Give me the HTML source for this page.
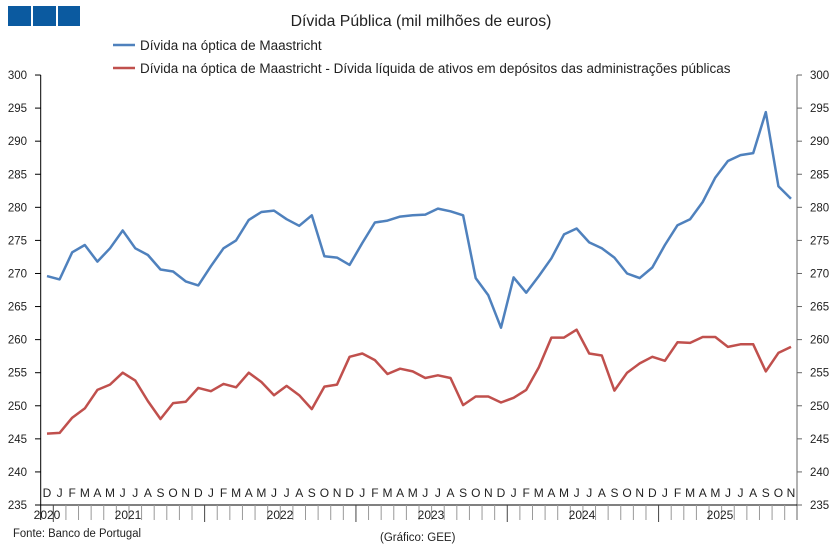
<!DOCTYPE html><html><head><meta charset="utf-8"><style>body{margin:0;background:#fff}svg{display:block;font-family:"Liberation Sans",sans-serif}</style></head><body>
<svg id="s" width="839" height="551" xmlns="http://www.w3.org/2000/svg">
<rect x="8" y="6" width="23" height="20" fill="#0b5aa0"/><rect x="33" y="6" width="23" height="20" fill="#0b5aa0"/><rect x="58" y="6" width="22" height="20" fill="#0b5aa0"/>
<text x="421" y="26" font-size="15.8" text-anchor="middle" fill="#222">Dívida Pública (mil milhões de euros)</text>
<line x1="113" y1="45" x2="135" y2="45" stroke="#4f81bd" stroke-width="2.5"/>
<text x="140" y="50" font-size="13.5" fill="#222">Dívida na óptica de Maastricht</text>
<line x1="113" y1="68" x2="135" y2="68" stroke="#c0504d" stroke-width="2.5"/>
<text x="140" y="73" font-size="13.5" fill="#222">Dívida na óptica de Maastricht - Dívida líquida de ativos em depósitos das administrações públicas</text>
<text x="13" y="537" font-size="11.5" fill="#222" textLength="128" lengthAdjust="spacingAndGlyphs">Fonte: Banco de Portugal</text>
<text x="380" y="541" font-size="11.5" fill="#222">(Gráfico: GEE)</text>
<g id="g"></g>
</svg>
<script>
var g=document.getElementById('g'),h='';
var L=40.7,R=797,dx=12.61;function X(i){return 47+dx*i}function Y(v){return 505-(v-235)*6.615}
h+='<line x1="'+L+'" y1="75" x2="'+L+'" y2="520" stroke="#000"/><line x1="'+R+'" y1="75" x2="'+R+'" y2="520" stroke="#666"/><line x1="'+L+'" y1="505" x2="'+R+'" y2="505" stroke="#000"/>';
for(var v=235;v<=300;v+=5){var y=Y(v);h+='<line x1="35" y1="'+y+'" x2="'+L+'" y2="'+y+'" stroke="#000"/><line x1="'+R+'" y1="'+y+'" x2="802" y2="'+y+'" stroke="#666"/>';
h+='<text x="27" y="'+(y+4)+'" font-size="11.5" text-anchor="end" fill="#222">'+v+'</text><text x="810" y="'+(y+4)+'" font-size="11.5" fill="#222">'+v+'</text>';}
var ms="DJFMAMJJASON";
for(var i=0;i<60;i++){h+='<text x="'+X(i)+'" y="497" font-size="12" text-anchor="middle" fill="#222">'+ms[i%12]+'</text>';
var b=X(i+0.5);if(i<59){var yr=(i%12==0);h+='<line x1="'+b+'" y1="505" x2="'+b+'" y2="'+(yr?522:520)+'" stroke="'+(yr?'#444':'#999')+'"/>';}}
[[47,'2020'],[128,'2021'],[280,'2022'],[431,'2023'],[582,'2024'],[720,'2025']].forEach(function(a){h+='<text x="'+a[0]+'" y="519" font-size="12" text-anchor="middle" fill="#222">'+a[1]+'</text>'});
var B=[269.6,269.1,273.2,274.3,271.8,273.8,276.5,273.8,272.8,270.6,270.3,268.8,268.2,271.1,273.8,275.0,278.1,279.3,279.5,278.2,277.2,278.8,272.6,272.4,271.3,274.6,277.7,278.0,278.6,278.8,278.9,279.8,279.4,278.8,269.3,266.7,261.8,269.4,267.1,269.6,272.3,275.9,276.8,274.7,273.8,272.4,270.0,269.3,270.9,274.3,277.3,278.2,280.8,284.5,287.0,287.9,288.2,294.4,283.2,281.3];
var Rd=[245.8,245.9,248.2,249.6,252.4,253.2,255.0,253.8,250.7,248.0,250.4,250.6,252.7,252.2,253.3,252.8,255.0,253.6,251.6,253.0,251.6,249.5,252.9,253.2,257.4,257.9,256.9,254.8,255.6,255.2,254.2,254.6,254.2,250.1,251.4,251.4,250.5,251.2,252.4,255.8,260.3,260.3,261.5,257.9,257.6,252.3,255.0,256.4,257.4,256.8,259.6,259.5,260.4,260.4,258.9,259.3,259.3,255.2,258.0,258.9];
function P(d,c){return '<polyline fill="none" stroke="'+c+'" stroke-width="2.5" stroke-linejoin="round" points="'+d.map(function(v,i){return X(i).toFixed(1)+','+Y(v).toFixed(1)}).join(' ')+'"/>'}
h+=P(B,'#4f81bd')+P(Rd,'#c0504d');g.innerHTML=h;
</script></body></html>
